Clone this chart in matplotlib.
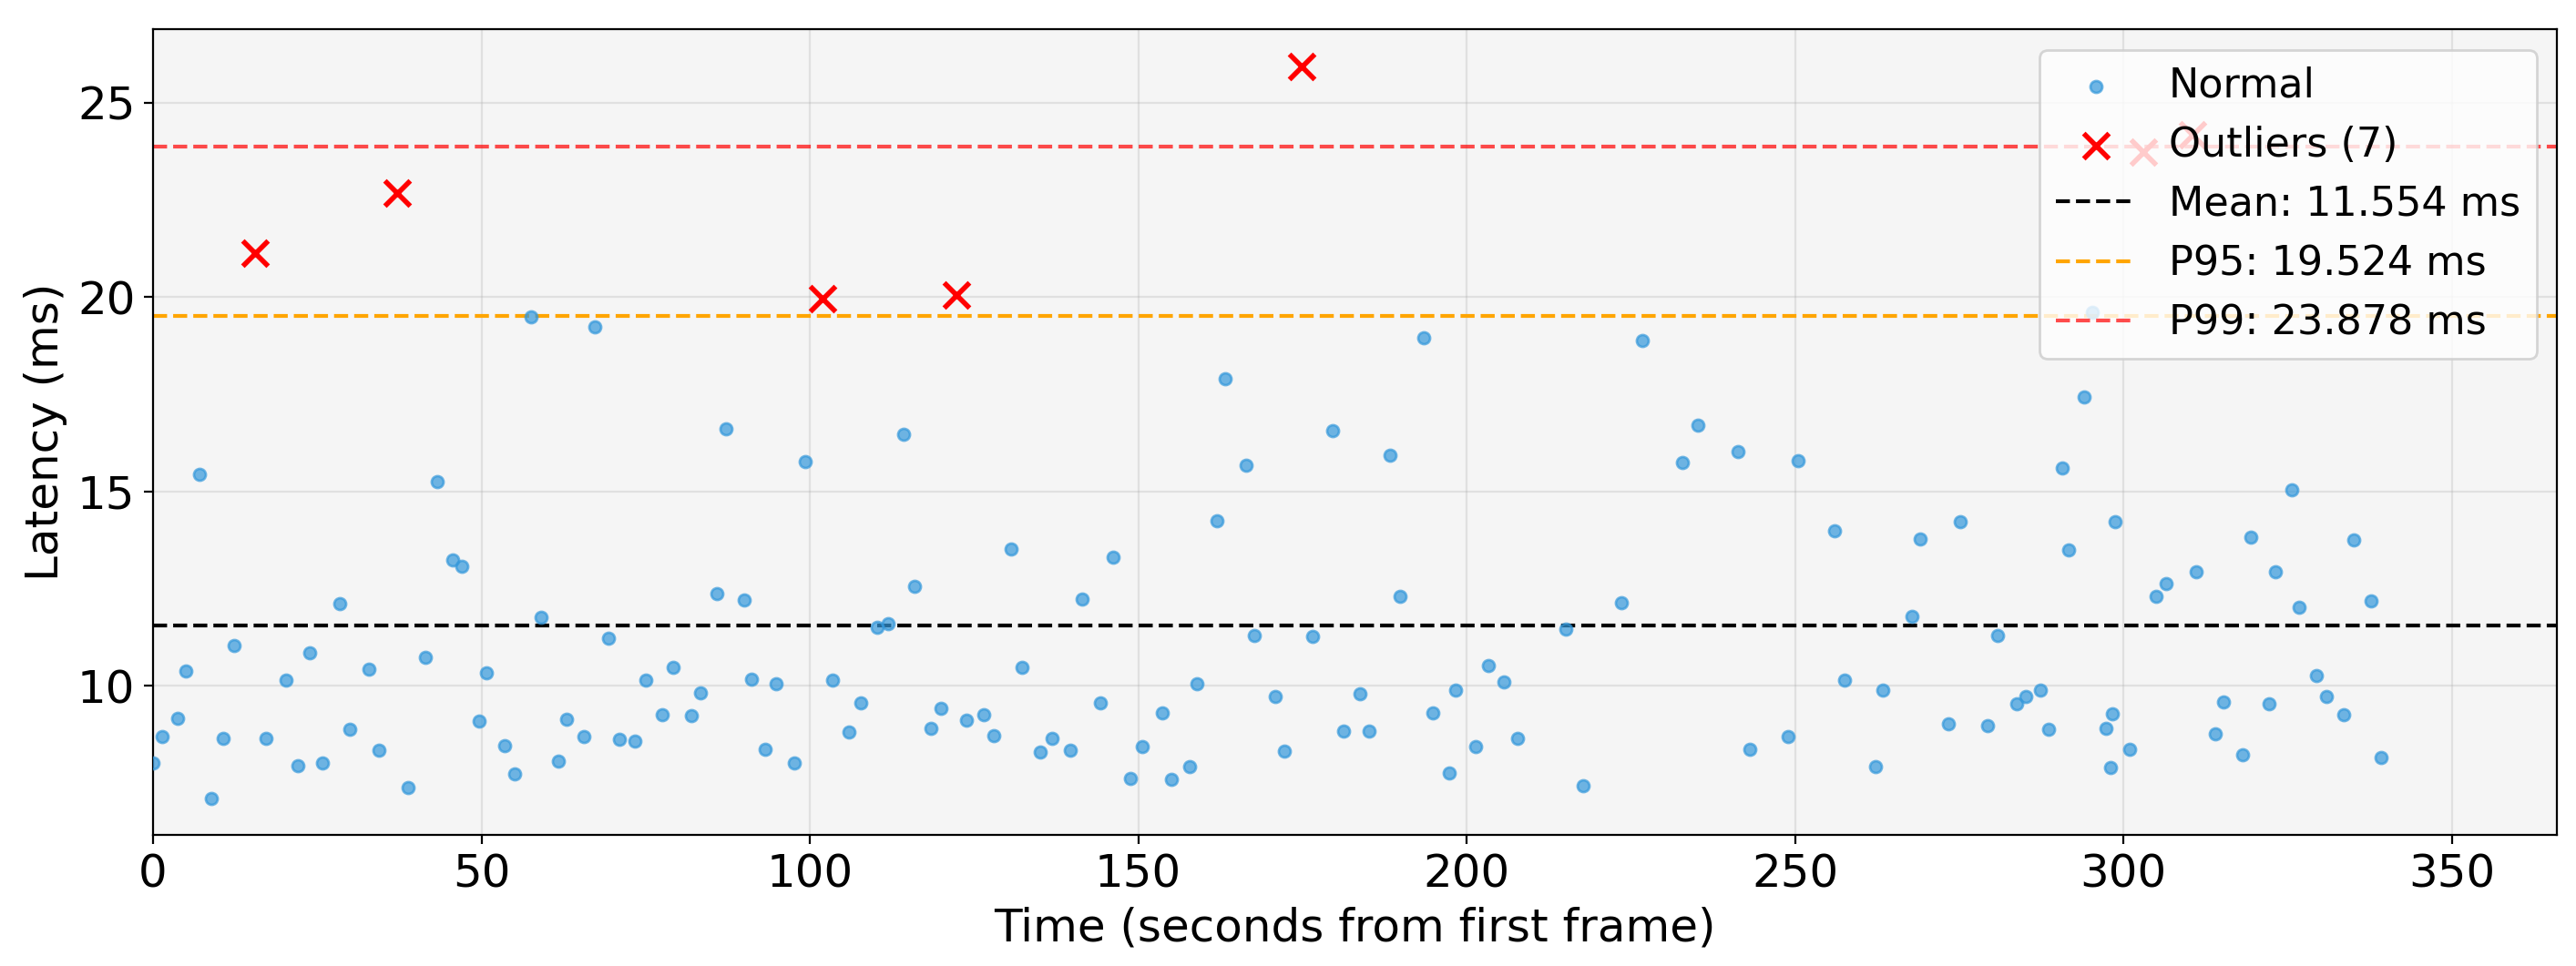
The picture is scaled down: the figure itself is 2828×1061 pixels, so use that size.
import numpy as np
import matplotlib.pyplot as plt

# normal frames (seconds from first frame, latency ms)
normal_t = [0.0, 1.4, 3.7, 5.0, 7.1, 8.9, 10.7, 12.3, 17.2, 20.2, 22.0, 23.9, 25.8, 28.5, 30.0,
            32.9, 34.4, 38.9, 41.4, 43.3, 45.6, 47.0, 49.6, 50.8, 53.5, 55.0, 57.6, 59.1, 61.7,
            63.0, 65.6, 67.2, 69.4, 71.0, 73.3, 75.0, 77.5, 79.2, 82.0, 83.4, 85.9, 87.3, 90.0,
            91.1, 93.2, 94.9, 97.7, 99.3, 103.4, 106.0, 107.7, 110.2, 111.9, 114.3, 115.9, 118.4,
            119.9, 123.8, 126.5, 128.0, 130.7, 132.3, 135.1, 136.9, 139.7, 141.5, 144.2, 146.2,
            148.8, 150.6, 153.7, 155.0, 157.8, 159.0, 162.0, 163.3, 166.4, 167.7, 170.8, 172.3,
            176.5, 179.6, 181.3, 183.7, 185.2, 188.4, 189.8, 193.4, 194.9, 197.3, 198.3, 201.4,
            203.3, 205.7, 207.8, 215.1, 217.7, 223.5, 226.7, 232.8, 235.2, 241.3, 243.1, 248.9,
            250.5, 256.0, 257.5, 262.2, 263.4, 267.8, 269.1, 273.4, 275.1, 279.3, 280.9, 283.8,
            285.2, 287.3, 288.6, 290.7, 291.7, 294.0, 295.2, 297.4, 298.0, 298.3, 298.7, 301.0,
            304.9, 306.5, 311.1, 314.0, 315.3, 318.1, 319.4, 322.1, 323.2, 325.6, 326.8, 329.4,
            330.9, 333.5, 335.0, 337.7, 339.2]
normal_lat = [8.00, 8.68, 9.16, 10.38, 15.44, 7.10, 8.65, 11.02, 8.65, 10.14, 7.95, 10.84, 8.00,
              12.10, 8.87, 10.43, 8.33, 7.37, 10.73, 15.24, 13.24, 13.08, 9.08, 10.33, 8.46, 7.73,
              19.49, 11.75, 8.06, 9.14, 8.70, 19.24, 11.21, 8.63, 8.58, 10.14, 9.24, 10.46, 9.22,
              9.81, 12.37, 16.60, 12.21, 10.16, 8.35, 10.05, 8.00, 15.76, 10.13, 8.81, 9.56, 11.51,
              11.60, 16.46, 12.56, 8.89, 9.41, 9.11, 9.24, 8.71, 13.51, 10.48, 8.30, 8.65, 8.33,
              12.22, 9.56, 13.30, 7.62, 8.43, 9.29, 7.59, 7.92, 10.05, 14.24, 17.89, 15.68, 11.30,
              9.73, 8.32, 11.27, 16.56, 8.83, 9.79, 8.83, 15.92, 12.30, 18.94, 9.29, 7.76, 9.89,
              8.43, 10.52, 10.10, 8.65, 11.46, 7.43, 12.14, 18.89, 15.75, 16.70, 16.02, 8.37, 8.68,
              15.78, 13.98, 10.13, 7.92, 9.89, 11.78, 13.78, 9.02, 14.22, 8.97, 11.29, 9.54, 9.71,
              9.89, 8.87, 15.60, 13.49, 17.43, 19.60, 8.89, 7.90, 9.27, 14.22, 8.37, 12.30, 12.63,
              12.94, 8.75, 9.57, 8.21, 13.83, 9.54, 12.94, 15.03, 12.02, 10.27, 9.73, 9.24, 13.76,
              12.17, 8.16]

outlier_t = [15.5, 37.2, 101.9, 122.3, 174.9, 303.0, 310.5]
outlier_lat = [21.14, 22.68, 19.95, 20.06, 25.94, 23.73, 24.18]

mean_lat = 11.554
p95_lat = 19.524
p99_lat = 23.878

fig = plt.figure(figsize=(14.14, 5.305), dpi=200)
ax = fig.add_axes([0.0594, 0.1357, 0.9332, 0.8337])
ax.set_facecolor('#f5f5f5')
ax.set_axisbelow(True)
ax.grid(True, alpha=0.3)

ax.scatter(normal_t, normal_lat, s=22, color='#3498db', alpha=0.7, label='Normal', zorder=3)
ax.scatter(outlier_t, outlier_lat, s=100, color='red', marker='x', linewidths=2,
           label='Outliers ({})'.format(len(outlier_t)), zorder=4)

ax.axhline(mean_lat, color='black', linestyle='--', linewidth=1.5,
           label='Mean: {:.3f} ms'.format(mean_lat))
ax.axhline(p95_lat, color='orange', linestyle='--', linewidth=1.5,
           label='P95: {:.3f} ms'.format(p95_lat))
ax.axhline(p99_lat, color='red', linestyle='--', linewidth=1.5, alpha=0.7,
           label='P99: {:.3f} ms'.format(p99_lat))

ax.set_xlim(0, 366)
ax.set_xlabel('Time (seconds from first frame)', fontsize=18)
ax.set_ylabel('Latency (ms)', fontsize=18)
ax.tick_params(labelsize=18)
ax.legend(loc='upper right', fontsize=16)

fig.savefig('out.png', dpi=200)
